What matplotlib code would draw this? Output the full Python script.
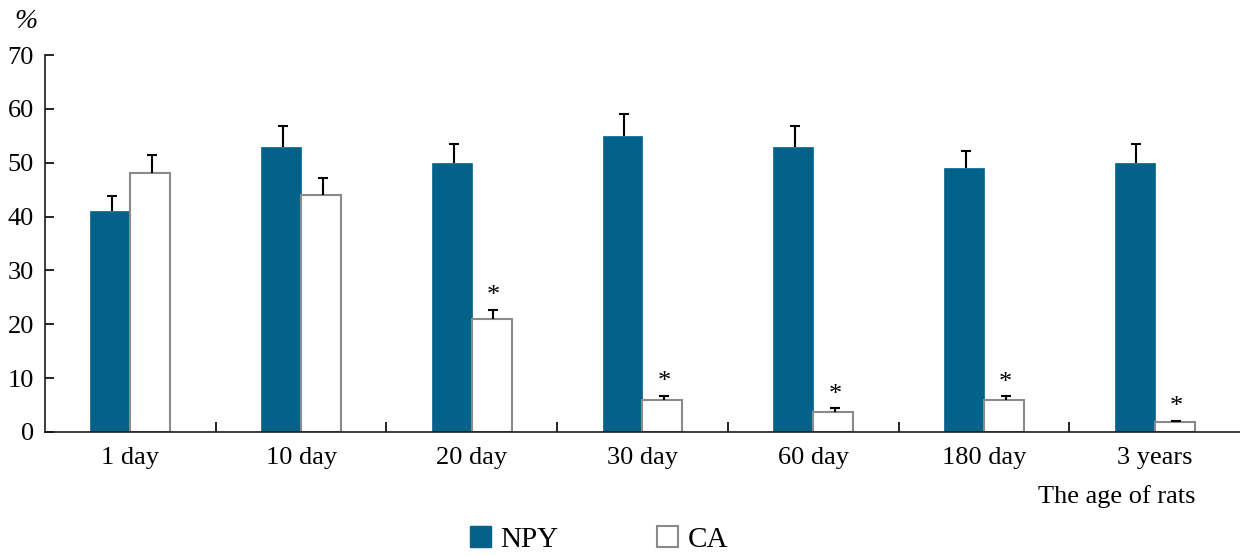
import matplotlib
matplotlib.use("Agg")
import matplotlib.pyplot as plt
from matplotlib.patches import Patch
import numpy as np

plt.rcParams['font.family'] = ['Liberation Serif', 'DejaVu Serif']

categories = ["1 day", "10 day", "20 day", "30 day", "60 day", "180 day", "3 years"]
npy = [41, 53, 50, 55, 53, 49, 50]
npy_err = [2.8, 3.8, 3.4, 4.0, 3.8, 3.2, 3.4]
ca = [48, 44, 21, 6, 3.7, 6, 1.8]
ca_err = [3.5, 3.1, 1.7, 0.7, 0.7, 0.6, 0.3]
ca_sig = [False, False, True, True, True, True, True]

NPY_COLOR = "#03628A"
EDGE_GREY = "#8a8a8a"
FS = 19

fig = plt.figure(figsize=(12.4, 5.56), dpi=100)
ax = fig.add_axes([45/1240, 1-432/556, 1-45/1240, (432-55)/556])

x = np.arange(len(categories)) + 0.5
w = 0.234

ax.bar(x - w/2, npy, width=w, color=NPY_COLOR, edgecolor=NPY_COLOR, linewidth=0.5, zorder=2)
ax.bar(x + w/2, ca, width=w, color="white", edgecolor=EDGE_GREY, linewidth=1.5, zorder=2)

ekw = dict(fmt='none', ecolor='black', elinewidth=1.5, capsize=3.3, capthick=1.5, zorder=3)
for xs, vals, errs in [(x - w/2 + 0.01, npy, npy_err), (x + w/2 + 0.01, ca, ca_err)]:
    _, caps, _ = ax.errorbar(xs, vals, yerr=[np.zeros(len(vals)), errs], **ekw)
    caps[0].set_visible(False)

for xi, v, e, s in zip(x, ca, ca_err, ca_sig):
    if s:
        ax.annotate("*", (xi + w/2 + 0.01, v + e), xytext=(0, 2), textcoords='offset points',
                    ha='center', va='bottom', fontsize=FS)

ax.set_xlim(0, len(categories))
ax.set_ylim(0, 70)
ax.set_yticks(range(0, 71, 10))
ax.set_xticks(x)
ax.set_xticklabels(categories)
ax.set_xticks(np.arange(1, len(categories)), minor=True)

ax.tick_params(axis='x', which='major', length=0, pad=11, labelsize=FS)
ax.tick_params(axis='x', which='minor', length=7, width=1.2, direction='in')
ax.tick_params(axis='y', which='major', length=6.5, width=1.2, direction='in', pad=8, labelsize=FS)

for sp in ['top', 'right']:
    ax.spines[sp].set_visible(False)
for sp in ['left', 'bottom']:
    ax.spines[sp].set_linewidth(1.2)
    ax.spines[sp].set_color('#1a1a1a')

fig.text(14/1240, 1-21/556, "%", fontsize=20, style='italic', ha='left', va='center')
fig.text(1196/1240, 1-497/556, "The age of rats", fontsize=FS, ha='right', va='center')

handles = [Patch(facecolor=NPY_COLOR, edgecolor=NPY_COLOR, label="NPY"),
           Patch(facecolor="white", edgecolor=EDGE_GREY, linewidth=1.5, label="CA")]
fig.legend(handles=handles, loc='lower left', bbox_to_anchor=(470/1240, 3/556), ncol=2,
           frameon=False, fontsize=21, handlelength=0.72, handleheight=0.72,
           handletextpad=0.31, columnspacing=3.4, borderpad=0, borderaxespad=0)

fig.savefig("out.png", dpi=100)
